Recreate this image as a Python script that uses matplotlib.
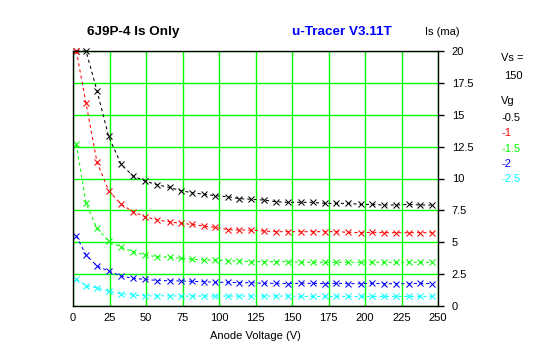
import numpy as np
from matplotlib import pyplot as plt

plt.rcParams['font.family'] = ['Liberation Sans', 'DejaVu Sans']

# anode voltage (V), shared by all sweeps
va = [2.3, 8.9, 16.4, 24.4, 33.0, 41.1, 49.3, 57.8, 66.2, 73.8, 81.6,
      89.6, 97.6, 106.0, 114.0, 122.2, 130.5, 139.0, 147.2, 155.9, 164.2,
      172.4, 180.4, 188.5, 197.0, 205.0, 213.2, 221.5, 229.8, 238.0, 246.0]

# screen current Is (mA) per grid voltage
is_m05 = [20.0, 20.0, 16.9, 13.3, 11.1, 10.2, 9.8, 9.5, 9.3, 9.04, 8.89,
          8.76, 8.65, 8.57, 8.42, 8.37, 8.31, 8.18, 8.13, 8.13, 8.13,
          8.05, 8.05, 8.05, 7.97, 7.97, 7.92, 7.92, 7.97, 7.92, 7.92]
is_m10 = [20.0, 15.9, 11.3, 9.05, 7.97, 7.4, 7.0, 6.75, 6.6, 6.48, 6.4,
          6.27, 6.17, 6.0, 5.96, 5.96, 5.88, 5.83, 5.83, 5.83, 5.83,
          5.83, 5.83, 5.78, 5.75, 5.78, 5.75, 5.75, 5.75, 5.75, 5.75]
is_m15 = [12.7, 8.05, 6.1, 5.1, 4.6, 4.26, 4.0, 3.87, 3.82, 3.74, 3.66,
          3.61, 3.61, 3.55, 3.53, 3.48, 3.48, 3.48, 3.48, 3.43, 3.43,
          3.43, 3.43, 3.43, 3.43, 3.43, 3.43, 3.43, 3.43, 3.43, 3.43]
is_m20 = [5.5, 4.0, 3.14, 2.75, 2.35, 2.17, 2.09, 2.0, 1.98, 1.96, 1.93,
          1.91, 1.86, 1.86, 1.83, 1.83, 1.78, 1.78, 1.75, 1.78, 1.78,
          1.75, 1.78, 1.75, 1.75, 1.78, 1.75, 1.75, 1.75, 1.78, 1.75]
is_m25 = [2.09, 1.59, 1.42, 1.15, 0.97, 0.86, 0.8, 0.8, 0.8, 0.78, 0.78,
          0.78, 0.78, 0.78, 0.78, 0.78, 0.78, 0.78, 0.78, 0.75, 0.75,
          0.75, 0.75, 0.75, 0.75, 0.75, 0.75, 0.75, 0.75, 0.75, 0.75]

vg_labels = ['-0.5', '-1', '-1.5', '-2', '-2.5']
series = [is_m05, is_m10, is_m15, is_m20, is_m25]
line_colors = ['#000000', '#ff0000', '#00ff00', '#0000ff', '#00ffff']

W, H = 547, 357
fig = plt.figure(figsize=(W / 100, H / 100), dpi=100)
ax = fig.add_axes([73 / W, 1 - 306 / H, 365 / W, 255 / H])


def px(x, y):
    return x / W, 1 - y / H


for ys, c in zip(series, line_colors):
    ax.plot(va, ys, color=c, lw=0.75, linestyle=(0, (3, 3)),
            marker='x', markersize=4, markeredgewidth=0.75, clip_on=False, zorder=3)

ax.set_xlim(0, 250)
ax.set_ylim(0, 20)
ax.set_xticks(np.arange(0, 251, 25))
ax.set_yticks(np.arange(0, 20.1, 2.5))
ax.set_yticklabels(['0', '2.5', '5', '7.5', '10', '12.5', '15', '17.5', '20'])
ax.grid(True, color='#00ff00', lw=1.0)
ax.set_axisbelow(True)
for s in ax.spines.values():
    s.set_color('black')
    s.set_linewidth(1.0)
    s.set_zorder(4)

ax.yaxis.tick_right()
ax.tick_params(axis='y', direction='out', length=4, width=1, pad=6, labelsize=8)
ax.tick_params(axis='x', length=0, pad=5, labelsize=8)
ax.set_xlabel('Anode Voltage (V)', fontsize=8, labelpad=6)

fig.text(*px(87, 32), '6J9P-4 Is Only', fontsize=9.7, fontweight='bold', va='center', ha='left')
fig.text(*px(292, 32), 'u-Tracer V3.11T', fontsize=9.7, fontweight='bold', color='#0000ff',
         va='center', ha='left')
fig.text(*px(425, 32), 'Is (ma)', fontsize=8, va='center', ha='left')

fig.text(*px(501, 58), 'Vs =', fontsize=8, va='center', ha='left')
fig.text(*px(504, 76), '150', fontsize=8, va='center', ha='left')
fig.text(*px(501, 101), 'Vg', fontsize=8, va='center', ha='left')
for i, (lab, c) in enumerate(zip(vg_labels, line_colors)):
    fig.text(*px(501, 118 + i * 15.3), lab, fontsize=8, color=c, va='center', ha='left')

fig.savefig('out.png', dpi=100)
